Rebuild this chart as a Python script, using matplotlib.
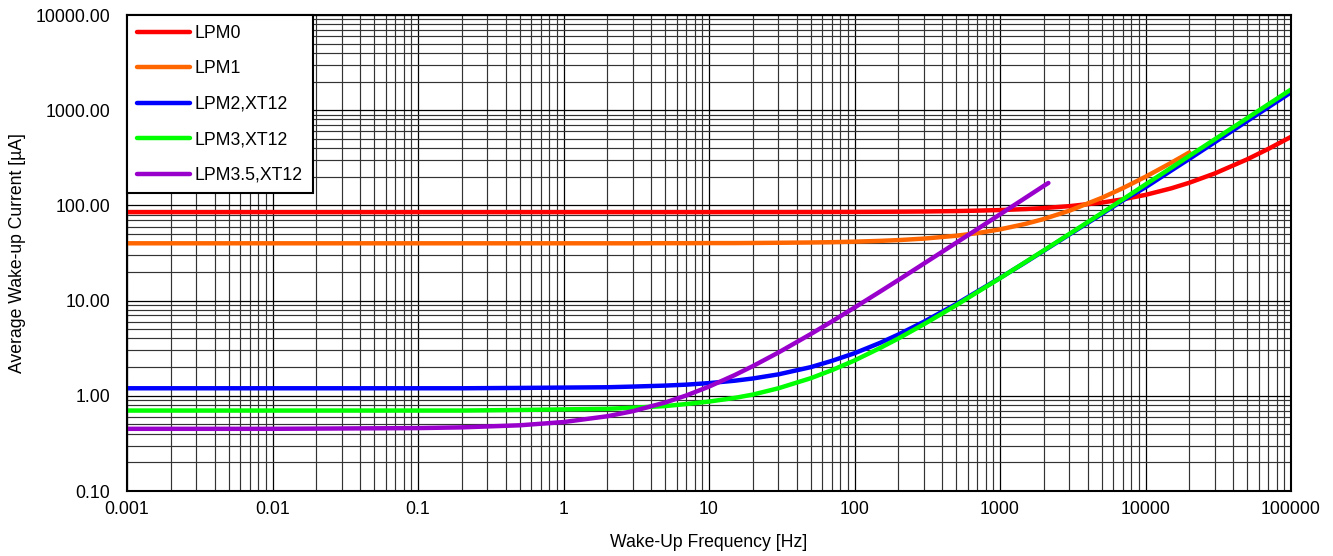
import numpy as np
import matplotlib
matplotlib.use("Agg")
import matplotlib.pyplot as plt
from matplotlib.ticker import FixedLocator, FixedFormatter, LogLocator, NullFormatter

plt.rcParams['font.family'] = ['Liberation Sans', 'DejaVu Sans']

# values
freq = [0.001, 0.01, 0.1, 0.2, 0.5, 1, 2, 3, 5, 7, 10, 15, 20, 30, 50, 70,
        100, 150, 200, 300, 500, 700, 1000, 1500, 2000, 3000, 5000, 7000,
        10000, 15000, 20000, 30000, 50000, 70000, 100000]
lpm0 = [85, 85, 85, 85, 85, 85, 85, 85, 85, 85, 85, 85.1, 85.1, 85.1, 85.2, 85.3,
        85.4, 85.7, 85.9, 86.3, 87.2, 88.1, 89.4, 91.6, 93.8, 98.2, 107, 116,
        129, 151, 173, 217, 305, 393, 525]
lpm1 = [40, 40, 40, 40, 40, 40, 40, 40, 40.1, 40.1, 40.2, 40.2, 40.3, 40.5, 40.8, 41.1,
        41.6, 42.4, 43.2, 44.8, 48, 51.2, 56, 64, 72, 88, 120, 152,
        200, 280, 360]
lpm2 = [1.2, 1.2, 1.2, 1.2, 1.21, 1.22, 1.23, 1.25, 1.28, 1.31, 1.36, 1.44, 1.52, 1.68, 2.0, 2.33,
        2.8, 3.6, 4.4, 6.0, 9.2, 12.5, 17.3, 25.3, 33.4, 49.5, 81, 113,
        155, 232, 308, 462, 770, 1078, 1540]
lpm3 = [0.70, 0.70, 0.70, 0.70, 0.71, 0.72, 0.73, 0.75, 0.78, 0.82, 0.87, 0.95, 1.03, 1.2, 1.53, 1.86,
        2.35, 3.18, 4.0, 5.65, 8.95, 12.3, 17.2, 25.5, 33.7, 50.2, 83, 116,
        166, 248, 331, 496, 826, 1156, 1650]
lpm35 = [0.45, 0.45, 0.458, 0.466, 0.49, 0.53, 0.61, 0.69, 0.85, 1.01, 1.25, 1.65, 2.05, 2.85, 4.45, 6.05,
         8.45, 12.45, 16.45, 24.5, 40.5, 56.5, 80.5, 120.5, 160.5, 172]
freq35 = freq[:25] + [2150]

xticks = [0.001, 0.01, 0.1, 1, 10, 100, 1000, 10000, 100000]
xlabels = ["0.001", "0.01", "0.1", "1", "10", "100", "1000", "10000", "100000"]
yticks = [0.1, 1, 10, 100, 1000, 10000]
ylabels = ["0.10", "1.00", "10.00", "100.00", "1000.00", "10000.00"]

fig = plt.figure(figsize=(13.33, 5.56), dpi=100)
ax = fig.add_axes([0.0953, 0.1169, 0.8732, 0.8561])

fs = 12.7
lw = 3.2
ax.plot(freq, lpm0, color="#FF0000", lw=lw, label="LPM0", solid_capstyle="round")
ax.plot(freq[:len(lpm1)], lpm1, color="#FF6600", lw=lw, label="LPM1", solid_capstyle="round")
ax.plot(freq, lpm2, color="#0000FF", lw=lw, label="LPM2,XT12", solid_capstyle="round")
ax.plot(freq, lpm3, color="#00FF00", lw=lw, label="LPM3,XT12", solid_capstyle="round")
ax.plot(freq35, lpm35, color="#9900CC", lw=lw, label="LPM3.5,XT12", solid_capstyle="round")

ax.set_xscale("log")
ax.set_yscale("log")
ax.set_xlim(0.001, 100000)
ax.set_ylim(0.1, 10000)

ax.xaxis.set_major_locator(FixedLocator(xticks))
ax.xaxis.set_major_formatter(FixedFormatter(xlabels))
ax.yaxis.set_major_locator(FixedLocator(yticks))
ax.yaxis.set_major_formatter(FixedFormatter(ylabels))
ax.xaxis.set_minor_locator(LogLocator(base=10, subs=np.arange(2, 10), numticks=50))
ax.yaxis.set_minor_locator(LogLocator(base=10, subs=np.arange(2, 10), numticks=50))
ax.xaxis.set_minor_formatter(NullFormatter())
ax.yaxis.set_minor_formatter(NullFormatter())

ax.grid(which="major", color="black", lw=0.9)
ax.grid(which="minor", color="#333333", lw=0.85)
ax.set_axisbelow(True)
ax.tick_params(which="both", length=0, labelsize=fs)
ax.tick_params(axis="x", pad=7)
ax.tick_params(axis="y", pad=12)

for s in ax.spines.values():
    s.set_linewidth(1.5)
    s.set_color("black")

ax.set_xlabel("Wake-Up Frequency [Hz]", fontsize=fs)
ax.set_ylabel("Average Wake-up Current [µA]", fontsize=fs)
ax.xaxis.set_label_coords(0.5, -0.09)
ax.yaxis.set_label_coords(-0.0868, 0.5)

leg = ax.legend(loc="upper left", borderaxespad=0, fontsize=fs, handlelength=3.0,
                handletextpad=0.3, labelspacing=1.05, borderpad=0.55,
                fancybox=False, framealpha=1, edgecolor="black")
leg.get_frame().set_linewidth(1.5)

fig.savefig("out.png", dpi=100)
